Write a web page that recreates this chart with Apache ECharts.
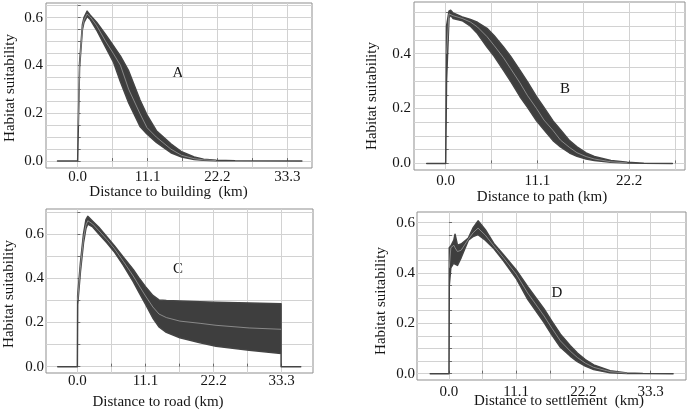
<!DOCTYPE html>
<html><head><meta charset="utf-8">
<script src="https://cdn.jsdelivr.net/npm/echarts@6/dist/echarts.min.js"></script>
<style>html,body{margin:0;padding:0;background:#fff}#c{width:688px;height:412px}</style>
</head><body><div id="c"></div>
<script>
// ---- Panel A: Distance to building ----
const aX   = [-3.2, 0, 0.1, 0.3, 0.75, 1.0, 1.5, 2.0, 3.0, 4.45, 5.66, 6.8, 8.1, 9.9, 11.0, 12.5, 14.8, 16.5, 18.5, 20.0, 22.0, 25.0, 35.6];
const aMid = [0, 0, 0.15, 0.40, 0.56, 0.59, 0.615, 0.603, 0.567, 0.50, 0.45, 0.40, 0.30, 0.198, 0.14, 0.10, 0.05, 0.024, 0.010, 0.005, 0.002, 0.001, 0];
const aUp  = [0, 0, 0.16, 0.41, 0.57, 0.60, 0.627, 0.610, 0.581, 0.528, 0.483, 0.439, 0.377, 0.255, 0.193, 0.127, 0.072, 0.039, 0.017, 0.008, 0.0035, 0.001, 0];
const aLow = [0, 0, 0.14, 0.39, 0.55, 0.58, 0.605, 0.592, 0.548, 0.475, 0.415, 0.331, 0.243, 0.145, 0.113, 0.078, 0.035, 0.017, 0.0067, 0.0035, 0.0017, 0.001, 0];
// ---- Panel B: Distance to path ----
const bX   = [-2.3, 0, 0.1, 0.4, 0.6, 0.9, 2.0, 3.0, 3.84, 5.0, 5.85, 7.0, 7.87, 9.0, 9.89, 11.0, 11.9, 13.0, 13.9, 15.0, 15.9, 17.0, 18.0, 20.0, 22.0, 24.0, 27.45];
const bMid = [0, 0, 0.40, 0.545, 0.552, 0.538, 0.528, 0.515, 0.497, 0.462, 0.43, 0.385, 0.345, 0.293, 0.248, 0.20, 0.158, 0.12, 0.085, 0.058, 0.039, 0.025, 0.016, 0.006, 0.002, 0.001, 0];
const bUp  = [0, 0, 0.50, 0.555, 0.558, 0.548, 0.5335, 0.524, 0.514, 0.492, 0.466, 0.424, 0.39, 0.339, 0.298, 0.243, 0.204, 0.155, 0.123, 0.083, 0.060, 0.038, 0.025, 0.011, 0.004, 0.001, 0];
const bLow = [0, 0, 0.30, 0.53, 0.54, 0.528, 0.520, 0.500, 0.473, 0.424, 0.391, 0.339, 0.299, 0.243, 0.205, 0.155, 0.123, 0.083, 0.060, 0.038, 0.026, 0.016, 0.011, 0.004, 0.0015, 0.001, 0];
// ---- Panel C: Distance to road ----
const cX   = [-3.2, 0, 0.05, 0.5, 1.0, 1.4, 1.7, 2.5, 3.5, 4.8, 6.0, 7.5, 9.1, 10.2, 11.1, 12.3, 13.3, 14.5, 16.7, 20.0, 22.6, 28.0, 33.2, 33.2, 36.4];
const cMid = [0, 0, 0.30, 0.45, 0.58, 0.64, 0.66, 0.645, 0.615, 0.575, 0.535, 0.476, 0.41, 0.36, 0.32, 0.27, 0.238, 0.222, 0.206, 0.196, 0.187, 0.175, 0.169, 0, 0];
const cUp  = [0, 0, 0.32, 0.47, 0.60, 0.665, 0.68, 0.658, 0.63, 0.588, 0.548, 0.495, 0.44, 0.395, 0.362, 0.322, 0.302, 0.299, 0.297, 0.294, 0.291, 0.288, 0.284, 0, 0];
const cLow = [0, 0, 0.28, 0.43, 0.56, 0.625, 0.645, 0.632, 0.60, 0.56, 0.52, 0.458, 0.385, 0.328, 0.283, 0.22, 0.18, 0.155, 0.131, 0.108, 0.092, 0.074, 0.06, 0, 0];
// ---- Panel D: Distance to settlement ----
const dX   = [-3.1, 0, 0.05, 0.3, 0.8, 1.0, 1.4, 2.0, 3.2, 4.0, 4.8, 6.0, 7.4, 9.0, 11.1, 13.0, 15.7, 17.0, 18.4, 20.0, 21.2, 22.5, 23.9, 26.6, 29.4, 32.0, 37.0];
const dMid = [0, 0, 0.42, 0.50, 0.51, 0.50, 0.485, 0.49, 0.534, 0.56, 0.578, 0.55, 0.507, 0.46, 0.395, 0.32, 0.229, 0.18, 0.13, 0.09, 0.064, 0.042, 0.025, 0.008, 0.002, 0.001, 0];
const dUp  = [0, 0, 0.50, 0.507, 0.53, 0.554, 0.51, 0.515, 0.538, 0.58, 0.607, 0.572, 0.517, 0.472, 0.412, 0.345, 0.257, 0.208, 0.157, 0.112, 0.082, 0.056, 0.035, 0.012, 0.003, 0.001, 0];
const dLow = [0, 0, 0.35, 0.42, 0.44, 0.435, 0.43, 0.46, 0.53, 0.545, 0.552, 0.53, 0.497, 0.448, 0.378, 0.295, 0.203, 0.153, 0.105, 0.07, 0.048, 0.03, 0.016, 0.004, 0.001, 0.001, 0];

// ---- Tick labels / grid lines ----
const xTickLabels = [0, 11.1, 22.2, 33.3];
const xGridLines = [0, 5.55, 11.1, 16.65, 22.2, 27.75, 33.3];
const yTickLabels = [0, 0.2, 0.4, 0.6];
const yGridFine = [0, 0.05, 0.1, 0.15, 0.2, 0.25, 0.3, 0.35, 0.4, 0.45, 0.5, 0.55, 0.6, 0.65];
const yGridCoarse = [0, 0.1, 0.2, 0.3, 0.4, 0.5, 0.6, 0.7];

const xTitles = ['Distance to building  (km)', 'Distance to path (km)', 'Distance to road (km)', 'Distance to settlement  (km)'];
const yTitle = 'Habitat suitability';
const panelLetters = ['A', 'B', 'C', 'D'];

const FONT = '"Liberation Serif", "Times New Roman", serif';
const TXT = '#151515';

const panels = [
  {x: aX, mid: aMid, up: aUp, low: aLow, grid: {left: 46, top: 3, width: 266, height: 165}, xr: [-5.03, 37.21], yr: [-0.029, 0.661], yGrid: yGridFine, xm: 2, ym: 3,
   xt: [168.5, 192], yt: [10, 88], lt: [178, 73]},
  {x: bX, mid: bMid, up: bUp, low: bLow, grid: {left: 414, top: 2, width: 271, height: 168}, xr: [-3.84, 28.98], yr: [-0.024, 0.588], yGrid: yGridFine, xm: 4, ym: 3,
   xt: [542, 197], yt: [372, 96], lt: [565, 89]},
  {x: cX, mid: cMid, up: cUp, low: cLow, grid: {left: 46, top: 209, width: 267, height: 164}, xr: [-5.11, 38.4], yr: [-0.0287, 0.713], yGrid: yGridCoarse, xm: 1, ym: 2,
   xt: [158, 402], yt: [9, 294], lt: [178, 269]},
  {x: dX, mid: dMid, up: dUp, low: dLow, grid: {left: 417, top: 212, width: 269, height: 168}, xr: [-5.28, 39.13], yr: [-0.0252, 0.642], yGrid: yGridFine, xm: 5, ym: 2,
   xt: [559, 401], yt: [381.5, 301], lt: [557, 293]}
];

const grids = [], xAxes = [], yAxes = [], series = [], graphics = [];
panels.forEach(function (p, i) {
  grids.push(Object.assign({show: true, borderColor: '#8f8f8f', borderWidth: 1, backgroundColor: 'rgba(0,0,0,0)', containLabel: false, outerBoundsMode: 'none'}, p.grid));
  xAxes.push({
    gridIndex: i, type: 'value', min: p.xr[0], max: p.xr[1],
    axisLine: {show: false},
    axisTick: {show: true, inside: true, length: 3, lineStyle: {color: '#6a6a6a'}, customValues: xGridLines},
    splitLine: {show: true, lineStyle: {color: '#d2d2d2', width: 1}},
    axisLabel: {customValues: xTickLabels, formatter: function (v) { return v.toFixed(1); }, margin: p.xm,
      fontFamily: FONT, fontSize: 15, color: TXT, showMinLabel: true, showMaxLabel: true}
  });
  yAxes.push({
    gridIndex: i, type: 'value', min: p.yr[0], max: p.yr[1],
    axisLine: {show: false},
    axisTick: {show: true, inside: true, length: 3, lineStyle: {color: '#6a6a6a'}, customValues: p.yGrid},
    splitLine: {show: true, lineStyle: {color: '#d2d2d2', width: 1}},
    axisLabel: {customValues: yTickLabels, formatter: function (v) { return v.toFixed(1); }, margin: p.ym,
      fontFamily: FONT, fontSize: 15, color: TXT}
  });
  series.push({
    type: 'custom', xAxisIndex: i, yAxisIndex: i, coordinateSystem: 'cartesian2d', silent: true, clip: true, z: 2,
    data: p.x.map(function (v, k) { return [v, p.up[k], p.low[k]]; }),
    encode: {x: 0, y: [1, 2]},
    renderItem: function (params, api) {
      if (params.dataIndex !== 0) return null;
      const pts = [];
      for (let k = 0; k < p.x.length; k++) pts.push(api.coord([p.x[k], p.up[k]]));
      for (let k = p.x.length - 1; k >= 0; k--) pts.push(api.coord([p.x[k], p.low[k]]));
      return {type: 'polygon', shape: {points: pts, smooth: 0}, style: {fill: '#3e3e3e', stroke: '#444', lineWidth: 1.5, lineJoin: 'round'}};
    }
  });
  series.push({
    type: 'line', xAxisIndex: i, yAxisIndex: i, showSymbol: false, symbol: 'none', silent: true, z: 3,
    data: p.x.map(function (v, k) { return (p.up[k] !== p.low[k]) ? [v, p.mid[k]] : [v, null]; }),
    connectNulls: false,
    lineStyle: {color: '#9c9c9c', width: 0.8},
    animation: false
  });
  graphics.push({type: 'text', x: p.xt[0], y: p.xt[1], style: {text: xTitles[i], font: '15px ' + FONT, fill: TXT, align: 'center', verticalAlign: 'middle'}});
  graphics.push({type: 'text', x: p.yt[0], y: p.yt[1], rotation: Math.PI / 2, style: {text: yTitle, font: '15px ' + FONT, fill: TXT, align: 'center', verticalAlign: 'middle'}});
  graphics.push({type: 'text', x: p.lt[0], y: p.lt[1], style: {text: panelLetters[i], font: '15px ' + FONT, fill: TXT, align: 'center', verticalAlign: 'middle'}});
});

const chart = echarts.init(document.getElementById('c'), null, {renderer: 'canvas'});
chart.setOption({
  animation: false,
  backgroundColor: '#ffffff',
  grid: grids, xAxis: xAxes, yAxis: yAxes, series: series,
  graphic: {elements: graphics}
});
</script>
</body></html>
